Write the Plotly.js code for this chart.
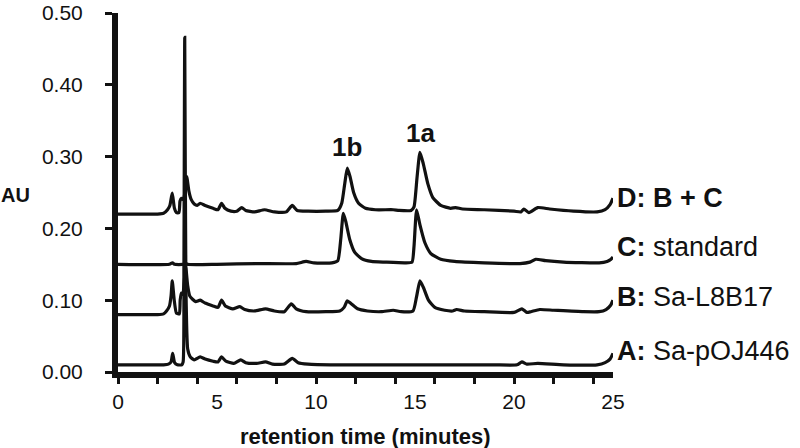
<!DOCTYPE html>
<html>
<head>
<meta charset="utf-8">
<script src="https://cdn.plot.ly/plotly-3.0.1.min.js"></script>
<style>
  html, body { margin: 0; padding: 0; background: #fff; }
  #chart { width: 800px; height: 448px; }
</style>
</head>
<body>
<div id="chart"></div>
<script>
// HPLC traces, [retention time (min), AU]
var traceA = [
  [0, 0.010], [2.3, 0.010], [2.55, 0.011], [2.68, 0.014], [2.76, 0.026], [2.86, 0.013],
  [3.0, 0.010], [3.22, 0.010], [3.29, 0.014], [3.33, 0.150], [3.37, 0.466], [3.43, 0.120],
  [3.52, 0.032], [3.65, 0.021], [3.85, 0.017], [4.15, 0.021], [4.4, 0.018], [4.8, 0.015],
  [5.05, 0.014], [5.23, 0.021], [5.45, 0.015], [5.85, 0.012], [6.2, 0.017], [6.45, 0.013],
  [7.0, 0.012], [7.45, 0.014], [7.8, 0.011], [8.4, 0.011], [8.8, 0.019], [9.1, 0.013],
  [9.6, 0.011], [11, 0.010], [13, 0.010], [15, 0.010], [17, 0.010], [19, 0.010],
  [20.15, 0.010], [20.4, 0.014], [20.65, 0.011], [21.2, 0.012], [22.5, 0.010], [24.2, 0.010],
  [24.6, 0.013], [24.85, 0.018], [25, 0.026]
];

var traceB = [
  [0, 0.080], [2.0, 0.080], [2.3, 0.081], [2.45, 0.085], [2.6, 0.092], [2.68, 0.106],
  [2.74, 0.127], [2.84, 0.100], [2.95, 0.082], [3.1, 0.081], [3.14, 0.100], [3.2, 0.110],
  [3.28, 0.108], [3.33, 0.122], [3.42, 0.146], [3.52, 0.120], [3.62, 0.106], [3.78, 0.101],
  [3.92, 0.098], [4.15, 0.100], [4.4, 0.096], [4.8, 0.092], [5.05, 0.090], [5.23, 0.100],
  [5.42, 0.092], [5.8, 0.088], [6.15, 0.091], [6.4, 0.087], [6.9, 0.085], [7.45, 0.088],
  [7.9, 0.085], [8.4, 0.084], [8.75, 0.095], [9.0, 0.088], [9.5, 0.084], [10.5, 0.084],
  [11.2, 0.085], [11.42, 0.090], [11.58, 0.099], [11.78, 0.095], [12.1, 0.088], [12.6, 0.085],
  [13.3, 0.084], [13.9, 0.086], [14.3, 0.084], [14.9, 0.085], [15.08, 0.105], [15.25, 0.127],
  [15.42, 0.118], [15.68, 0.100], [16.0, 0.090], [16.5, 0.086], [16.9, 0.085], [17.1, 0.087],
  [17.5, 0.085], [18.5, 0.084], [20.0, 0.083], [20.4, 0.088], [20.65, 0.083], [20.85, 0.084],
  [21.3, 0.087], [22.0, 0.086], [23.5, 0.084], [24.3, 0.084], [24.65, 0.087], [24.88, 0.093],
  [25, 0.100]
];

var traceC = [
  [0, 0.150], [2.6, 0.150], [2.75, 0.152], [2.85, 0.150], [3.3, 0.150], [3.4, 0.152],
  [3.5, 0.150], [5, 0.150], [7, 0.151], [9, 0.151], [9.5, 0.154], [9.9, 0.152],
  [10.8, 0.152], [11.1, 0.155], [11.25, 0.185], [11.38, 0.221], [11.5, 0.210], [11.7, 0.185],
  [11.95, 0.167], [12.3, 0.158], [12.8, 0.154], [13.5, 0.153], [14.5, 0.152], [14.85, 0.153],
  [14.95, 0.175], [15.08, 0.226], [15.25, 0.205], [15.5, 0.180], [15.8, 0.165], [16.3, 0.157],
  [17, 0.154], [18.5, 0.152], [20.3, 0.151], [20.8, 0.153], [21.1, 0.157], [21.6, 0.155],
  [22.5, 0.153], [24.3, 0.152], [24.7, 0.154], [24.9, 0.157], [25, 0.160]
];

var traceD = [
  [0, 0.220], [2.0, 0.220], [2.3, 0.221], [2.5, 0.226], [2.62, 0.232], [2.74, 0.249],
  [2.85, 0.228], [2.95, 0.222], [3.08, 0.222], [3.13, 0.238], [3.2, 0.242], [3.3, 0.240],
  [3.38, 0.250], [3.47, 0.272], [3.58, 0.252], [3.7, 0.240], [3.85, 0.234], [4.0, 0.232],
  [4.15, 0.235], [4.4, 0.232], [4.8, 0.228], [5.05, 0.226], [5.23, 0.235], [5.4, 0.228],
  [5.7, 0.224], [6.0, 0.224], [6.25, 0.229], [6.45, 0.225], [6.9, 0.223], [7.4, 0.226],
  [7.9, 0.223], [8.5, 0.223], [8.8, 0.232], [9.05, 0.225], [9.6, 0.224], [10.5, 0.224],
  [11.1, 0.225], [11.3, 0.235], [11.45, 0.262], [11.58, 0.284], [11.72, 0.272], [11.9, 0.250],
  [12.15, 0.235], [12.5, 0.228], [13.0, 0.226], [13.9, 0.226], [14.2, 0.225], [14.8, 0.225],
  [14.95, 0.230], [15.1, 0.270], [15.25, 0.306], [15.42, 0.290], [15.65, 0.262], [15.9, 0.243],
  [16.3, 0.232], [16.8, 0.228], [17.05, 0.229], [17.4, 0.227], [18.5, 0.226], [20.0, 0.224],
  [20.35, 0.223], [20.5, 0.227], [20.75, 0.222], [21.2, 0.229], [21.8, 0.227], [23.0, 0.224],
  [24.2, 0.223], [24.6, 0.226], [24.85, 0.233], [25, 0.242]
];

// sample labels at the right end of each trace
var sampleKeys = ['D:', 'C:', 'B:', 'A:'];
var sampleNames = ['B + C', 'standard', 'Sa-L8B17', 'Sa-pOJ446'];
var sampleLabelY = [0.2417, 0.174, 0.105, 0.029];

// peak labels
var peakNames = ['1b', '1a'];
var peakTimes = [11.57, 15.3];
var peakLabelY = [0.3135, 0.333];

var yTicks = [0, 0.1, 0.2, 0.3, 0.4, 0.5];
var xLabelTicks = [0, 5, 10, 15, 20, 25];
var xMarkTicks = [0, 2, 4, 6, 8, 10, 12, 14, 16, 18, 20, 22, 24];

var FONT = 'Liberation Sans, Arial, Helvetica, sans-serif';
var INK = '#111';

function mk(pts) {
  return {
    x: pts.map(function (p) { return p[0]; }),
    y: pts.map(function (p) { return p[1]; }),
    type: 'scatter',
    mode: 'lines',
    line: { color: INK, width: 3.2, shape: 'spline', smoothing: 0.5 },
    hoverinfo: 'skip',
    showlegend: false
  };
}

var data = [mk(traceD), mk(traceC), mk(traceB), mk(traceA)];
// carrier for the label-only axis
data.push({ x: [xLabelTicks[0], xLabelTicks[xLabelTicks.length - 1]], y: [null, null],
  xaxis: 'x2', type: 'scatter', mode: 'lines', hoverinfo: 'skip', showlegend: false });

var annotations = [];
for (var i = 0; i < sampleKeys.length; i++) {
  var name = sampleNames[i];
  if (sampleKeys[i] === 'D:') name = '<b>' + name + '</b>';
  annotations.push({
    x: 25, y: sampleLabelY[i], xref: 'x', yref: 'y',
    xanchor: 'left', yanchor: 'middle', xshift: 2, showarrow: false,
    text: '<b>' + sampleKeys[i] + '</b> ' + name,
    font: { family: FONT, size: 27, color: INK }
  });
}
for (var j = 0; j < peakNames.length; j++) {
  annotations.push({
    x: peakTimes[j], y: peakLabelY[j], xref: 'x', yref: 'y',
    xanchor: 'center', yanchor: 'middle', showarrow: false,
    text: '<b>' + peakNames[j] + '</b>',
    font: { family: FONT, size: 26, color: INK }
  });
}
annotations.push({
  x: -0.207, y: 0.494, xref: 'paper', yref: 'paper', showarrow: false,
  xanchor: 'center', yanchor: 'middle', text: '<b>AU</b>',
  font: { family: FONT, size: 20, color: INK }
});
annotations.push({
  x: 0.5, y: -0.18, xref: 'paper', yref: 'paper', showarrow: false,
  xanchor: 'center', yanchor: 'middle', text: '<b>retention time (minutes)</b>',
  font: { family: FONT, size: 22, color: INK }
});

var layout = {
  width: 800,
  height: 448,
  margin: { l: 118, r: 187, t: 13, b: 76 },
  paper_bgcolor: '#fff',
  plot_bgcolor: '#fff',
  showlegend: false,
  xaxis: {
    range: [0, 25],
    tickvals: xMarkTicks,
    showticklabels: false,
    ticks: 'outside', ticklen: 6, tickwidth: 3, tickcolor: INK,
    showline: true, linewidth: 6, linecolor: INK,
    showgrid: false, zeroline: false, fixedrange: true
  },
  xaxis2: {
    overlaying: 'x', anchor: 'y', side: 'bottom',
    range: [0, 25],
    tickvals: xLabelTicks,
    ticks: '', showline: false, showgrid: false, zeroline: false,
    ticklabelstandoff: 15,
    tickfont: { family: FONT, size: 21, color: INK },
    fixedrange: true
  },
  yaxis: {
    range: [0, 0.5],
    tickvals: yTicks,
    tickformat: '.2f',
    ticks: 'outside', ticklen: 7, tickwidth: 3, tickcolor: INK,
    ticklabelstandoff: 18,
    ticklabeloverflow: 'allow',
    tickfont: { family: FONT, size: 21, color: INK },
    showline: true, linewidth: 6, linecolor: INK,
    showgrid: false, zeroline: false, fixedrange: true
  },
  annotations: annotations
};

Plotly.newPlot('chart', data, layout, { displayModeBar: false, staticPlot: true });
</script>
</body>
</html>
